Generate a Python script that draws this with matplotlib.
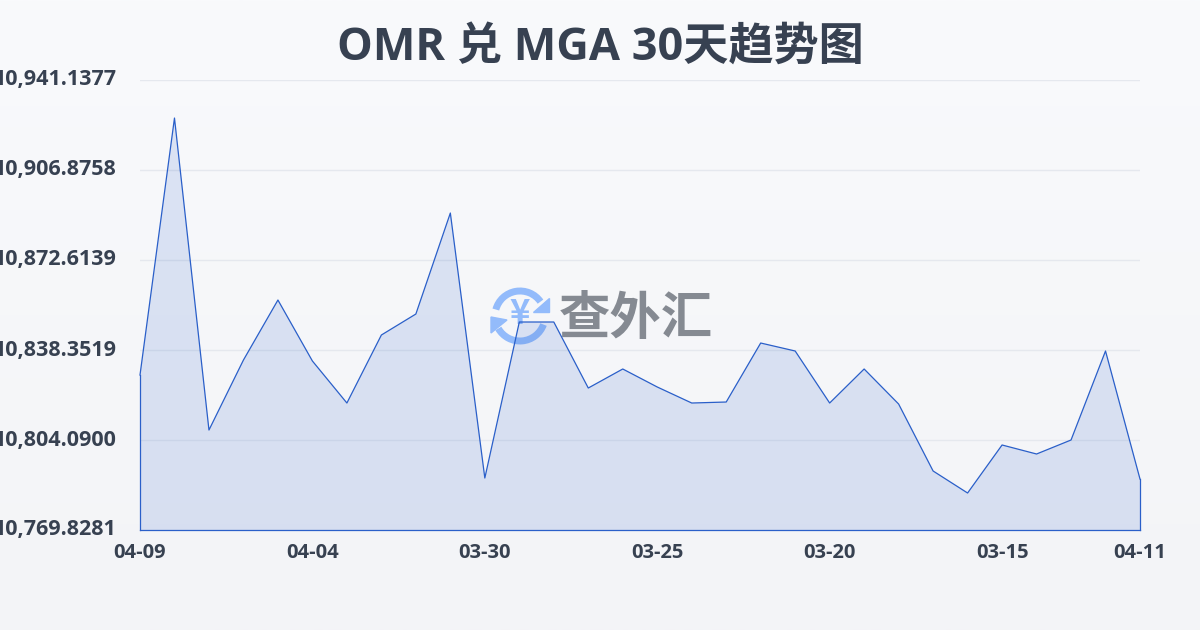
import numpy as np
import matplotlib
matplotlib.use('Agg')
import matplotlib.pyplot as plt
from matplotlib.patches import Arc, Polygon
from matplotlib.colors import LinearSegmentedColormap
from matplotlib.transforms import ScaledTranslation

plt.rcParams['font.family'] = ['Open Sans', 'Noto Sans CJK SC', 'DejaVu Sans']

TITLE = 'OMR 兑 MGA 30天趋势图'
LOGO_TEXT = '查外汇'

dates = ['04-09', '04-08', '04-07', '04-06', '04-05', '04-04', '04-03', '04-02', '04-01', '03-31',
         '03-30', '03-29', '03-28', '03-27', '03-26', '03-25', '03-24', '03-23', '03-22', '03-21',
         '03-20', '03-19', '03-18', '03-17', '03-16', '03-15', '03-14', '03-13', '03-12', '04-11']
rates = [10828.83, 10926.66, 10807.89, 10834.54, 10857.38, 10834.16, 10818.17, 10844.06, 10852.05, 10890.50,
         10789.62, 10849.01, 10849.01, 10823.88, 10831.12, 10824.27, 10818.17, 10818.55, 10841.01, 10837.97,
         10818.17, 10831.12, 10817.79, 10792.29, 10783.91, 10802.19, 10798.76, 10804.09, 10837.97, 10789.24]
y_ticks = [10769.8281, 10804.0900, 10838.3519, 10872.6139, 10906.8758, 10941.1377]
y_labels = ['10,769.8281', '10,804.0900', '10,838.3519', '10,872.6139', '10,906.8758', '10,941.1377']
x_tick_pos = [0, 5, 10, 15, 20, 25, 29]

LINE = '#2a5fc9'
TEXT = '#374151'
GRID = '#e5e8ee'

fig = plt.figure(figsize=(12, 6.3), dpi=100)

# page background
bg = fig.add_axes([0, 0, 1, 1], zorder=0)
bg.axis('off')
bg_cmap = LinearSegmentedColormap.from_list('bg', ['#f9fafc', '#f3f4f7'])
bg.imshow(np.linspace(0, 1, 256).reshape(-1, 1), aspect='auto', cmap=bg_cmap, extent=[0, 1, 0, 1])

# watermark, in pixel coordinates
wm = fig.add_axes([0, 0, 1, 1], zorder=1)
wm.set_xlim(0, 1200)
wm.set_ylim(630, 0)
wm.axis('off')
BLUE = '#93bbfb'
wm.add_patch(Arc((520, 316), 50, 50, theta1=195, theta2=325, color=BLUE, lw=5))
wm.add_patch(Arc((520, 316), 50, 50, theta1=20, theta2=150, color=BLUE, lw=5))
wm.add_patch(Polygon([[549, 298], [549, 312], [533, 312]], color=BLUE))
wm.add_patch(Polygon([[491, 317], [507, 320], [491, 333]], color=BLUE))
wm.text(520, 314, '¥', color=BLUE, fontsize=25, fontweight='bold', ha='center', va='center',
        family=['Noto Sans CJK SC', 'DejaVu Sans'])
wm.text(636, 321, LOGO_TEXT, color='#858a92', fontsize=37, fontweight='bold', ha='center', va='center')

ax = fig.add_axes([140 / 1200, 100 / 630, 1000 / 1200, 450 / 630], zorder=2)
ax.patch.set_alpha(0)
x = np.arange(len(rates))
ax.fill_between(x, rates, y_ticks[0], facecolor=LINE, alpha=0.14, edgecolor='none', zorder=3)
ax.plot(x, rates, color=LINE, lw=0.9, zorder=4, clip_on=False)
ax.plot([x[0], x[0]], [y_ticks[0], rates[0]], color=LINE, lw=0.9, zorder=4, clip_on=False)
ax.plot([x[-1], x[-1]], [y_ticks[0], rates[-1]], color=LINE, lw=0.9, zorder=4, clip_on=False)
ax.plot([x[0], x[-1]], [y_ticks[0], y_ticks[0]], color=LINE, lw=0.9, zorder=4, clip_on=False)

ax.set_xlim(0, len(rates) - 1)
ax.set_ylim(y_ticks[0], y_ticks[-1])
ax.set_yticks(y_ticks)
ax.set_yticklabels(y_labels)
ax.set_xticks(x_tick_pos)
ax.set_xticklabels([dates[i] for i in x_tick_pos])
ax.grid(axis='y', color=GRID, lw=1)
ax.set_axisbelow(True)
for s in ax.spines.values():
    s.set_visible(False)
ax.tick_params(axis='y', length=0, pad=17, labelsize=15.5, labelcolor=TEXT)
ax.tick_params(axis='x', length=0, pad=9, labelsize=14.5, labelcolor=TEXT)
up = ScaledTranslation(0, 2.5 / 100, fig.dpi_scale_trans)
for lab in ax.get_yticklabels():
    lab.set_fontweight('bold')
    lab.set_transform(lab.get_transform() + up)
for lab in ax.get_xticklabels():
    lab.set_fontweight('bold')

fig.text(0.5, 1 - 48 / 630, TITLE, ha='center', va='center', fontsize=32.5, fontweight='bold', color=TEXT)

fig.savefig('out.png', dpi=100)
plt.close('all')
